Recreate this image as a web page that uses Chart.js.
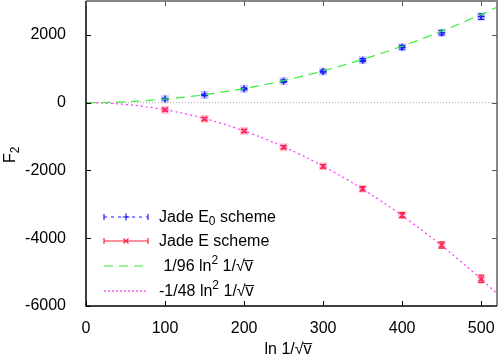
<html>
<head>
<script src="https://cdn.jsdelivr.net/npm/chart.js"></script>
<style>
  body { margin: 0; background: #ffffff; }
</style>
</head>
<body>
<canvas id="myChart" width="498" height="354"></canvas>
<script>
// values
const xPoints = [100, 150, 200, 250, 300, 350, 400, 450, 500];
const jadeE0 = [105, 230, 410, 635, 920, 1255, 1635, 2065, 2540];
const jadeE0Err = [20, 25, 30, 35, 40, 45, 55, 65, 80];
const jadeE = [-210, -480, -835, -1315, -1880, -2540, -3320, -4200, -5200];
const jadeEErr = [30, 35, 40, 45, 55, 65, 75, 90, 110];

const curveX = [0, 20, 40, 60, 80, 100, 120, 140, 160, 180, 200, 220, 240, 260, 280, 300, 320, 340, 360, 380, 400, 420, 440, 460, 480, 500, 520];
const curvePos = [0, 4, 17, 38, 67, 104, 150, 204, 267, 338, 417, 504, 600, 704, 817, 938, 1067, 1204, 1350, 1504, 1667, 1838, 2017, 2204, 2400, 2604, 2817];
const curveNeg = [0, -8, -33, -75, -133, -208, -300, -408, -533, -675, -833, -1008, -1200, -1408, -1633, -1875, -2133, -2408, -2700, -3008, -3333, -3675, -4033, -4408, -4800, -5208, -5633];

const xTicks = [0, 100, 200, 300, 400, 500];
const yTicks = [-6000, -4000, -2000, 0, 2000];

const FONT = 'Liberation Sans';
const BLUE = '#1a1aff';
const RED = '#ff2040';
const GREEN = '#33ee33';
const MAGENTA = '#ff33ff';

function pairs(xs, ys) {
  return xs.map((x, i) => ({ x: x, y: ys[i] }));
}

// draw text with sub/superscripts, parts = [[text, dy, size], ...]
function richText(ctx, parts, x, y) {
  parts.forEach(p => {
    ctx.font = p[2] + 'px "' + FONT + '"';
    ctx.fillText(p[0], x, y + p[1]);
    x += ctx.measureText(p[0]).width;
  });
}

const errorBars = {
  id: 'errorBars',
  beforeDatasetsDraw(chart) {
    const ctx = chart.ctx;
    const xs = chart.scales.x, ys = chart.scales.y;
    const sets = [[jadeE0, jadeE0Err, BLUE, 'rgba(60,60,255,0.25)'], [jadeE, jadeEErr, RED, 'rgba(255,40,70,0.25)']];
    ctx.save();
    sets.forEach(s => {
      xPoints.forEach((x, i) => {
        const px = xs.getPixelForValue(x);
        const py = ys.getPixelForValue(s[0][i]);
        ctx.fillStyle = s[3];
        ctx.fillRect(px - 4, py - 4, 8, 8);
      });
      ctx.strokeStyle = s[2];
      ctx.lineWidth = 1.2;
      xPoints.forEach((x, i) => {
        const px = xs.getPixelForValue(x);
        const y1 = ys.getPixelForValue(s[0][i] + s[1][i]);
        const y2 = ys.getPixelForValue(s[0][i] - s[1][i]);
        ctx.beginPath();
        ctx.moveTo(px, y1); ctx.lineTo(px, y2);
        ctx.moveTo(px - 3, y1); ctx.lineTo(px + 3, y1);
        ctx.moveTo(px - 3, y2); ctx.lineTo(px + 3, y2);
        ctx.stroke();
      });
    });
    ctx.restore();
  }
};

const frame = {
  id: 'frame',
  afterDraw(chart) {
    const ctx = chart.ctx;
    const a = chart.chartArea;
    const xs = chart.scales.x, ys = chart.scales.y;
    ctx.save();
    // top and right in grey, left and bottom in black
    ctx.lineWidth = 2;
    ctx.strokeStyle = '#888888';
    ctx.beginPath();
    ctx.moveTo(a.left, a.top); ctx.lineTo(a.right, a.top); ctx.lineTo(a.right, a.bottom);
    ctx.stroke();
    ctx.lineWidth = 1.5;
    ctx.strokeStyle = '#000000';
    ctx.beginPath();
    ctx.moveTo(a.left, a.top); ctx.lineTo(a.left, a.bottom); ctx.lineTo(a.right, a.bottom);
    ctx.stroke();
    // ticks, mirrored
    ctx.lineWidth = 1;
    xTicks.forEach(v => {
      const px = Math.round(xs.getPixelForValue(v)) + 0.5;
      ctx.strokeStyle = '#000000';
      ctx.beginPath(); ctx.moveTo(px, a.bottom); ctx.lineTo(px, a.bottom - 5); ctx.stroke();
      ctx.strokeStyle = '#555555';
      ctx.beginPath(); ctx.moveTo(px, a.top); ctx.lineTo(px, a.top + 5); ctx.stroke();
    });
    yTicks.forEach(v => {
      const py = Math.round(ys.getPixelForValue(v)) + 0.5;
      ctx.strokeStyle = '#000000';
      ctx.beginPath(); ctx.moveTo(a.left, py); ctx.lineTo(a.left + 5, py); ctx.stroke();
      ctx.strokeStyle = '#555555';
      ctx.beginPath(); ctx.moveTo(a.right, py); ctx.lineTo(a.right - 5, py); ctx.stroke();
    });

    ctx.fillStyle = '#000000';
    ctx.textAlign = 'left';

    // x axis title
    ctx.textBaseline = 'alphabetic';
    ctx.font = '16px "' + FONT + '"';
    const xt = 'ln 1/\u221Av\u0305';
    ctx.fillText(xt, 288 - ctx.measureText(xt).width / 2, 354);

    // y axis title
    ctx.textBaseline = 'middle';
    ctx.translate(11, 163);
    ctx.rotate(-Math.PI / 2);
    richText(ctx, [['F', 0, 16], ['2', 5, 12]], 0, 0);
    ctx.setTransform(1, 0, 0, 1, 0, 0);

    // legend
    const lx1 = 104, lx2 = 148, cx = 126, tx = 159;
    const rows = [217, 241, 266, 291];
    ctx.lineWidth = 1.2;
    // row 1
    ctx.strokeStyle = BLUE;
    ctx.setLineDash([3, 4]);
    ctx.beginPath(); ctx.moveTo(lx1, rows[0]); ctx.lineTo(lx2, rows[0]); ctx.stroke();
    ctx.setLineDash([]);
    ctx.beginPath();
    ctx.moveTo(lx1, rows[0] - 3); ctx.lineTo(lx1, rows[0] + 3);
    ctx.moveTo(lx2, rows[0] - 3); ctx.lineTo(lx2, rows[0] + 3);
    ctx.moveTo(cx - 3.5, rows[0]); ctx.lineTo(cx + 3.5, rows[0]);
    ctx.moveTo(cx, rows[0] - 3.5); ctx.lineTo(cx, rows[0] + 3.5);
    ctx.stroke();
    // row 2
    ctx.strokeStyle = RED;
    ctx.beginPath();
    ctx.moveTo(lx1, rows[1]); ctx.lineTo(lx2, rows[1]);
    ctx.moveTo(lx1, rows[1] - 3); ctx.lineTo(lx1, rows[1] + 3);
    ctx.moveTo(lx2, rows[1] - 3); ctx.lineTo(lx2, rows[1] + 3);
    ctx.moveTo(cx - 2.5, rows[1] - 2.5); ctx.lineTo(cx + 2.5, rows[1] + 2.5);
    ctx.moveTo(cx - 2.5, rows[1] + 2.5); ctx.lineTo(cx + 2.5, rows[1] - 2.5);
    ctx.stroke();
    // row 3
    ctx.strokeStyle = GREEN;
    ctx.setLineDash([9, 6]);
    ctx.beginPath(); ctx.moveTo(lx1, rows[2]); ctx.lineTo(lx2, rows[2]); ctx.stroke();
    // row 4
    ctx.strokeStyle = MAGENTA;
    ctx.setLineDash([2, 2]);
    ctx.beginPath(); ctx.moveTo(lx1, rows[3]); ctx.lineTo(lx2, rows[3]); ctx.stroke();
    ctx.setLineDash([]);

    ctx.textBaseline = 'middle';
    richText(ctx, [['Jade E', 0, 16], ['0', 4, 12], [' scheme', 0, 16]], tx, rows[0] + 1);
    richText(ctx, [['Jade E scheme', 0, 16]], tx, rows[1] + 1);
    richText(ctx, [[' 1/96 ln', 0, 16], ['2', -6, 12], [' 1/\u221Av\u0305', 0, 16]], tx, rows[2] + 1);
    richText(ctx, [['-1/48 ln', 0, 16], ['2', -6, 12], [' 1/\u221Av\u0305', 0, 16]], tx, rows[3] + 1);
    ctx.restore();
  }
};

const data = {
  datasets: [
    {
      label: 'zero',
      data: [{ x: 0, y: 0 }, { x: 520, y: 0 }],
      borderColor: '#aaaaaa',
      borderWidth: 1,
      borderDash: [1, 2],
      pointRadius: 0,
      showLine: true
    },
    {
      label: '1/96 ln2',
      data: pairs(curveX, curvePos),
      borderColor: GREEN,
      borderWidth: 1.2,
      borderDash: [9, 6],
      pointRadius: 0,
      showLine: true,
      tension: 0.3
    },
    {
      label: '-1/48 ln2',
      data: pairs(curveX, curveNeg),
      borderColor: MAGENTA,
      borderWidth: 1.2,
      borderDash: [2, 3],
      pointRadius: 0,
      showLine: true,
      tension: 0.3
    },
    {
      label: 'Jade E0 scheme',
      data: pairs(xPoints, jadeE0),
      borderColor: BLUE,
      backgroundColor: BLUE,
      pointStyle: 'cross',
      pointRadius: 3.5,
      pointBorderWidth: 1.5,
      showLine: false
    },
    {
      label: 'Jade E scheme',
      data: pairs(xPoints, jadeE),
      borderColor: RED,
      backgroundColor: RED,
      pointStyle: 'crossRot',
      pointRadius: 3.5,
      pointBorderWidth: 1.5,
      showLine: false
    }
  ]
};

const config = {
  type: 'scatter',
  data: data,
  options: {
    responsive: false,
    animation: false,
    layout: { autoPadding: false, padding: { top: 1, right: 1, left: 0, bottom: 0 } },
    plugins: {
      legend: { display: false },
      tooltip: { enabled: false }
    },
    scales: {
      x: {
        type: 'linear',
        min: 0,
        max: 520,
        afterBuildTicks: s => { s.ticks = xTicks.map(v => ({ value: v })); },
        afterFit: s => { s.height = 48; s.paddingLeft = 0; s.paddingRight = 0; },
        grid: { display: false },
        border: { display: false },
        ticks: { color: '#000000', font: { family: FONT, size: 16 }, padding: 5, maxRotation: 0, callback: v => String(v) }
      },
      y: {
        type: 'linear',
        min: -6000,
        max: 3000,
        afterBuildTicks: s => { s.ticks = yTicks.map(v => ({ value: v })); },
        afterFit: s => { s.width = 86; s.paddingTop = 0; s.paddingBottom = 0; },
        grid: { display: false },
        border: { display: false },
        ticks: { color: '#000000', font: { family: FONT, size: 16 }, padding: 12, callback: v => String(v) }
      }
    }
  },
  plugins: [errorBars, frame]
};

const myChart = new Chart(document.getElementById('myChart'), config);
</script>
</body>
</html>
